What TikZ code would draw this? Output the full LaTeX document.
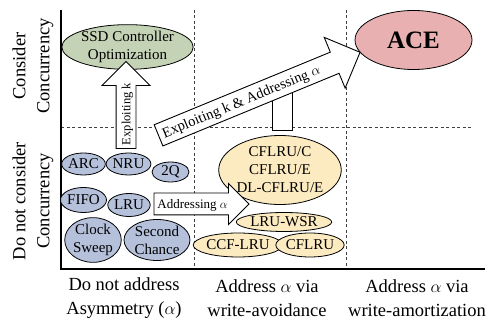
\documentclass[tikz,border=0pt]{standalone}
\usepackage{fontspec}
\setmainfont{Liberation Serif}
\usetikzlibrary{shapes.geometric,shapes.arrows}

\definecolor{oldblue}{RGB}{181,193,219}
\definecolor{avoidyel}{RGB}{252,234,192}
\definecolor{ssdgreen}{RGB}{196,211,182}
\definecolor{acepink}{RGB}{232,176,176}

\begin{document}
\begin{tikzpicture}[x=1pt,y=-1pt,
  blob/.style={ellipse,draw,line width=0.8pt,inner sep=0pt,align=center,font=\fontsize{15}{18}\selectfont},
  axlabel/.style={align=center,font=\fontsize{18.5}{24}\selectfont},
  blockarrow/.style={single arrow,draw,fill=white,line width=0.9pt,inner xsep=3pt,inner ysep=0pt,single arrow head indent=0pt}]
   \useasboundingbox (0,0) rectangle (493,320);
   % quadrant grid
   \draw[line width=0.7pt,dashed,dash pattern=on 3pt off 2.5pt,black!75] (194,10) -- (194,269) (346,10) -- (346,269) (61,127) -- (472,127);
   \draw[line width=1.6pt] (61,10) -- (61,269) -- (485,269);
   % axis labels
   \node[axlabel,rotate=90] (conc) at (33,66) {Consider\\Concurrency};
   \node[axlabel,rotate=90] (noconc) at (33,201) {Do not consider\\Concurrency};
   \foreach \pos/\name/\disp in {{(124,298)/noasym/{Do not address\\Asymmetry ($\alpha$)}}, {(267,298)/avoid/{Address $\alpha$ via\\write-avoidance}}, {(417,298)/amort/{Address $\alpha$ via\\write-amortization}}}
   \node[axlabel] (\name) at \pos {\disp};
   % policies that ignore asymmetry
   \foreach \pos/\name/\w/\h/\disp in {{(83.5,164)/arc/41/22/ARC}, {(128.5,164)/nru/41/22/NRU}, {(170.5,172)/twoq/37/20/2Q}, {(83.5,200)/fifo/39/25/FIFO}, {(129,205)/lru/42/23/LRU}, {(93,240)/clock/56/40/{Clock\\Sweep}}, {(157,240)/second/66/41/{Second\\Chance}}}
   \node[blob,fill=oldblue,minimum width=\w,minimum height=\h] (\name) at \pos {\disp};
   % write-avoidance policies
   \foreach \pos/\name/\w/\h/\disp in {{(280,170)/cflrux/106/69/{CFLRU/C\\CFLRU/E\\DL-CFLRU/E}}, {(284,222)/lruwsr/90/19/LRU-WSR}, {(238,245)/ccflru/76/24/CCF-LRU}, {(310,245)/cflru/63/24/CFLRU}}
   \node[blob,fill=avoidyel,minimum width=\w,minimum height=\h] (\name) at \pos {\disp};
   \node[blob,fill=ssdgreen,minimum width=121,minimum height=39] (ssd) at (127.5,47) {SSD Controller\\Optimization};
   \node[blob,fill=acepink,minimum width=117,minimum height=59,font=\fontsize{25}{30}\selectfont\bfseries] (ace) at (413.5,40) {ACE};
   % block arrows
   \node[blockarrow,rotate=90,minimum height=76,single arrow head extend=14pt,text height=13.8pt,text depth=5.2pt,font=\fontsize{12.5}{14}\selectfont] (expk) at (126,110) {Exploiting k\hspace*{8pt}};
   \node[blockarrow,minimum height=86,single arrow head extend=9.5pt,text height=14.8pt,text depth=6.2pt,font=\fontsize{13}{15}\selectfont] (addr) at (196,204) {Addressing $\alpha$\hspace*{7pt}};
   \draw[fill=white,line width=0.9pt] (272,130) rectangle (292,86); % stem under the big arrow
   \node[blockarrow,rotate=22.4,minimum height=218,single arrow head extend=16pt,text height=15.8pt,text depth=6.2pt,font=\fontsize{14.5}{16}\selectfont] (both) at (254,96) {Exploiting k \& Addressing $\alpha$\hspace*{28pt}};
\end{tikzpicture}
\end{document}
